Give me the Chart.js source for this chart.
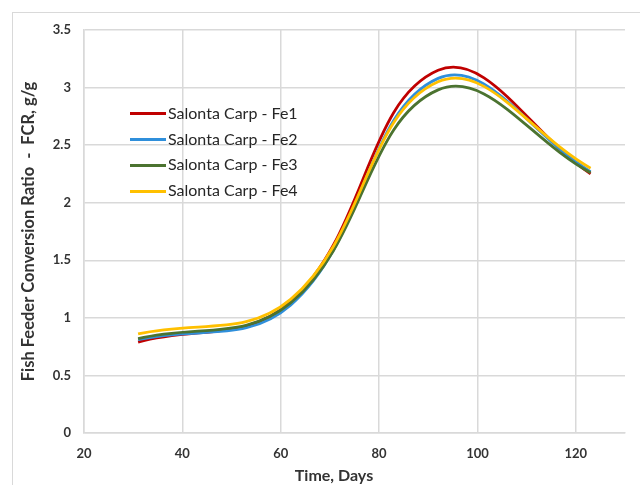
<!DOCTYPE html>
<html lang="en">
<head>
<meta charset="UTF-8">
<title>Fish Feeder Conversion Ratio</title>
<script src="https://cdn.jsdelivr.net/npm/chart.js"></script>
<style>
  html, body { margin: 0; padding: 0; background: #fff; }
  #wrap { position: relative; width: 640px; height: 485px; overflow: hidden; }
  #frame { position: absolute; left: 12px; top: 12px; width: 700px; height: 600px; border: 1px solid #d9d9d9; }
  #myChart { position: absolute; left: 0; top: 0; }
  #legend { position: absolute; left: 130px; top: 100px; font: 16px Lato, sans-serif; color: #262626; }
  #legend div { height: 25.7px; line-height: 25.7px; white-space: nowrap; }
  #legend span { display: inline-block; width: 36px; height: 3px; vertical-align: middle; margin-right: 2px; position: relative; top: -1px; }
</style>
</head>
<body>
<div id="wrap">
  <div id="frame"></div>
  <canvas id="myChart" width="640" height="485"></canvas>
  <div id="legend"></div>
</div>
<script>
  // sampling days
  const days = [31, 62, 92, 123];

  // FCR values, g/g
  const fe1 = [0.79, 1.14, 3.15, 2.25];
  const fe2 = [0.81, 1.11, 3.08, 2.27];
  const fe3 = [0.82, 1.13, 2.98, 2.26];
  const fe4 = [0.86, 1.16, 3.05, 2.30];

  const seriesNames = ['Salonta Carp - Fe1', 'Salonta Carp - Fe2', 'Salonta Carp - Fe3', 'Salonta Carp - Fe4'];
  const seriesColors = ['#C00000', '#2F8FDB', '#4B7330', '#FFC000'];

  const toPoints = vals => vals.map((v, i) => ({ x: days[i], y: v }));

  const datasets = [fe1, fe2, fe3, fe4].map((vals, i) => ({
    label: seriesNames[i],
    data: toPoints(vals),
    borderColor: seriesColors[i],
    backgroundColor: seriesColors[i],
    borderWidth: 2.8,
    pointRadius: 0,
    tension: 0.4,
    order: 4 - i
  }));

  // x axis title sits a bit left of centre in the original
  const xTitle = {
    id: 'xTitle',
    afterDraw(chart) {
      const c = chart.ctx;
      c.save();
      c.font = 'bold 16px Lato, sans-serif';
      c.fillStyle = '#333';
      c.textAlign = 'center';
      c.textBaseline = 'middle';
      c.fillText('Time, Days', 334, 476);
      c.restore();
    }
  };

  const tickFont = { family: 'Lato, sans-serif', size: 13, weight: 'bold' };

  new Chart(document.getElementById('myChart').getContext('2d'), {
    type: 'line',
    data: { datasets: datasets },
    options: {
      responsive: false,
      animation: false,
      layout: { padding: { top: 30, right: 15, left: 0, bottom: 0 } },
      plugins: { legend: { display: false }, tooltip: { enabled: false } },
      scales: {
        x: {
          type: 'linear',
          min: 20,
          max: 130,
          ticks: { stepSize: 20, includeBounds: false, padding: 13, color: '#333', font: tickFont },
          grid: { color: '#d9d9d9', lineWidth: 1.5, drawTicks: false },
          border: { color: '#d9d9d9', width: 1.5 },
          afterFit(scale) { scale.height = 52; }
        },
        y: {
          min: 0,
          max: 3.5,
          ticks: { stepSize: 0.5, padding: 13, color: '#333', font: tickFont, callback: v => String(v) },
          grid: { color: '#d9d9d9', lineWidth: 1.5, drawTicks: false },
          border: { color: '#d9d9d9', width: 1.5 },
          title: {
            display: true,
            text: 'Fish Feeder Conversion Ratio  -  FCR, g/g',
            color: '#333',
            font: { family: 'Lato, sans-serif', size: 16.5, weight: 'bold' },
            padding: { top: 19, bottom: 0 }
          },
          afterFit(scale) { scale.width = 84; }
        }
      }
    },
    plugins: [xTitle]
  });

  // legend placed inside the plot, as in the original
  const legend = document.getElementById('legend');
  seriesNames.forEach((name, i) => {
    const row = document.createElement('div');
    const swatch = document.createElement('span');
    swatch.style.background = seriesColors[i];
    row.appendChild(swatch);
    row.appendChild(document.createTextNode(name));
    legend.appendChild(row);
  });
</script>
</body>
</html>
